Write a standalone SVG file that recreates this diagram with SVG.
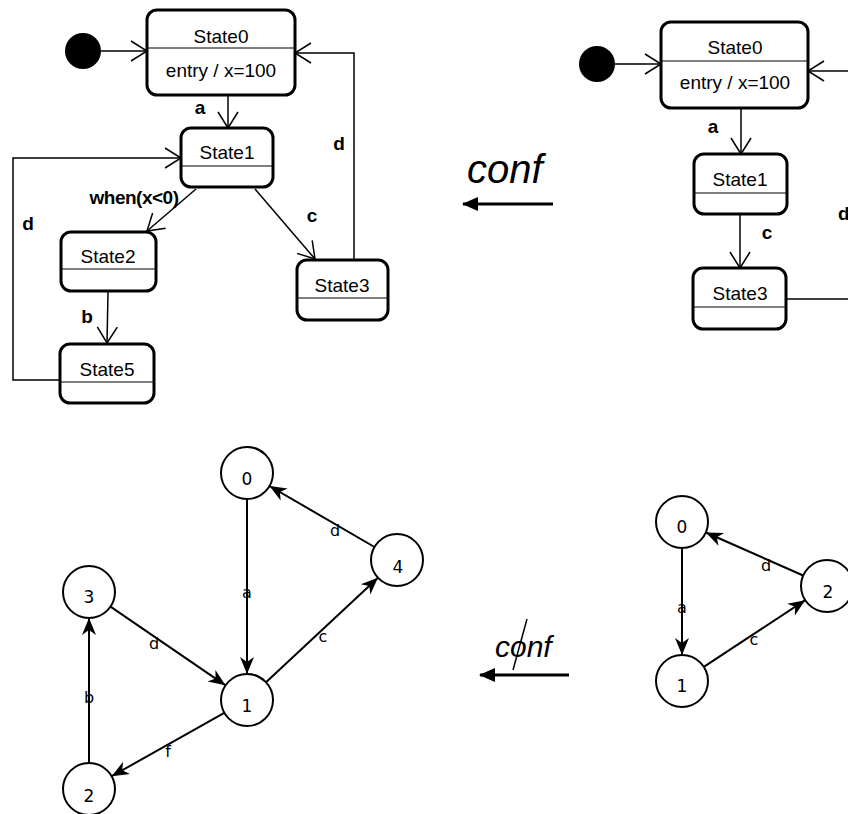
<svg xmlns="http://www.w3.org/2000/svg" width="848" height="814" viewBox="0 0 848 814">
<style>
.box{fill:#fff;stroke:#000;stroke-width:3}
.div{stroke:#000;stroke-width:1}
.st{font-family:"Liberation Sans",Arial,sans-serif;font-size:19px;text-anchor:middle;fill:#000}
.lb{font-family:"Liberation Sans",Arial,sans-serif;font-size:19px;font-weight:bold;fill:#000}
.tr{fill:none;stroke:#000;stroke-width:1.5}
.node{fill:#fff;stroke:#000;stroke-width:2}
.nl{font-family:"DejaVu Sans",Verdana,sans-serif;font-size:17px;text-anchor:middle;fill:#000}
.el{font-family:"DejaVu Sans",Verdana,sans-serif;font-size:16px;text-anchor:middle;fill:#000}
.ge{fill:none;stroke:#000;stroke-width:2}
.conf{font-family:"Liberation Sans",Arial,sans-serif;font-style:italic;fill:#000}
.big{stroke:#000;stroke-width:3}
</style>
<defs>
<marker id="open" markerUnits="userSpaceOnUse" markerWidth="22" markerHeight="26" viewBox="-19 -13 22 26" refX="0" refY="0" orient="auto">
<path d="M-16,-10 L0,0 L-16,10" fill="none" stroke="#000" stroke-width="1.5"/>
</marker>
<marker id="dart" markerUnits="userSpaceOnUse" markerWidth="22" markerHeight="20" viewBox="-19 -10 22 20" refX="0" refY="0" orient="auto">
<path d="M0,0 L-17,-7 L-12,0 L-17,7 Z" fill="#000"/>
</marker>
<marker id="tri" markerUnits="userSpaceOnUse" markerWidth="20" markerHeight="20" viewBox="-17 -10 20 20" refX="0" refY="0" orient="auto">
<path d="M1,0 L-15,-7 L-15,7 Z" fill="#000"/>
</marker>
</defs>

<!-- Top-left state machine -->
<g id="tl-connectors">
<line class="tr" x1="101" y1="51" x2="147" y2="51" marker-end="url(#open)"/>
<line class="tr" x1="228" y1="95" x2="228" y2="128" marker-end="url(#open)"/>
<line class="tr" x1="196" y1="189" x2="147" y2="231" marker-end="url(#open)"/>
<line class="tr" x1="255" y1="189" x2="315" y2="259" marker-end="url(#open)"/>
<polyline class="tr" points="354,259 354,53 295,53" marker-end="url(#open)"/>
<line class="tr" x1="108" y1="292" x2="107" y2="343" marker-end="url(#open)"/>
<polyline class="tr" points="60,380 13,380 13,158 181,158" marker-end="url(#open)"/>
<text class="lb" x="200" y="114" text-anchor="middle">a</text>
<text class="lb" x="134" y="204" text-anchor="middle" letter-spacing="-0.5">when(x&lt;0)</text>
<text class="lb" x="312" y="222" text-anchor="middle">c</text>
<text class="lb" x="339" y="150" text-anchor="middle">d</text>
<text class="lb" x="87" y="323" text-anchor="middle">b</text>
<text class="lb" x="28" y="230" text-anchor="middle">d</text>
</g>
<g id="tl-init"><circle cx="83" cy="51" r="18" fill="#000"/></g>
<g id="tl-state0">
<rect class="box" x="147" y="10" width="148" height="85" rx="10"/>
<line class="div" x1="147" y1="48" x2="295" y2="48"/>
<text class="st" x="221" y="43">State0</text>
<text class="st" x="221" y="77">entry / x=100</text>
</g>
<g id="tl-state1">
<rect class="box" x="181" y="128" width="92" height="59" rx="10"/>
<line class="div" x1="181" y1="166" x2="273" y2="166"/>
<text class="st" x="227" y="159">State1</text>
</g>
<g id="tl-state2">
<rect class="box" x="61" y="232" width="95" height="59" rx="10"/>
<line class="div" x1="61" y1="269" x2="156" y2="269"/>
<text class="st" x="108" y="263">State2</text>
</g>
<g id="tl-state3">
<rect class="box" x="297" y="260" width="91" height="60" rx="10"/>
<line class="div" x1="297" y1="298" x2="388" y2="298"/>
<text class="st" x="342" y="292">State3</text>
</g>
<g id="tl-state5">
<rect class="box" x="60" y="344" width="94" height="59" rx="10"/>
<line class="div" x1="60" y1="382" x2="154" y2="382"/>
<text class="st" x="107" y="376">State5</text>
</g>

<!-- conf arrow top -->
<g id="conf-top">
<text class="conf" x="467" y="183" font-size="40">conf</text>
<line class="big" x1="553" y1="204" x2="463" y2="204" marker-end="url(#tri)"/>
</g>

<!-- Top-right state machine -->
<g id="tr-connectors">
<line class="tr" x1="615" y1="64" x2="661" y2="64" marker-end="url(#open)"/>
<line class="tr" x1="741" y1="108" x2="741" y2="154" marker-end="url(#open)"/>
<line class="tr" x1="740" y1="214" x2="740" y2="268" marker-end="url(#open)"/>
<line class="tr" x1="786" y1="299" x2="850" y2="299"/>
<line class="tr" x1="850" y1="71" x2="808" y2="71" marker-end="url(#open)"/>
<text class="lb" x="713" y="133" text-anchor="middle">a</text>
<text class="lb" x="767" y="239" text-anchor="middle">c</text>
<text class="lb" x="838" y="220">d</text>
</g>
<g id="tr-init"><circle cx="597" cy="64" r="18" fill="#000"/></g>
<g id="tr-state0">
<rect class="box" x="661" y="22" width="147" height="86" rx="10"/>
<line class="div" x1="661" y1="61" x2="808" y2="61"/>
<text class="st" x="735" y="54">State0</text>
<text class="st" x="735" y="89">entry / x=100</text>
</g>
<g id="tr-state1">
<rect class="box" x="694" y="154" width="93" height="60" rx="10"/>
<line class="div" x1="694" y1="193" x2="787" y2="193"/>
<text class="st" x="740" y="186">State1</text>
</g>
<g id="tr-state3">
<rect class="box" x="693" y="268" width="93" height="61" rx="10"/>
<line class="div" x1="693" y1="307" x2="786" y2="307"/>
<text class="st" x="740" y="300">State3</text>
</g>

<!-- Bottom-left graph -->
<g id="bl-connectors">
<line class="ge" x1="247" y1="499" x2="247" y2="674" marker-end="url(#dart)"/>
<line class="ge" x1="374.5" y1="547" x2="269.5" y2="486" marker-end="url(#dart)"/>
<line class="ge" x1="110.5" y1="606.7" x2="225.5" y2="685.3" marker-end="url(#dart)"/>
<line class="ge" x1="266" y1="682.3" x2="378" y2="577.7" marker-end="url(#dart)"/>
<line class="ge" x1="224.3" y1="712.8" x2="111.7" y2="776.2" marker-end="url(#dart)"/>
<line class="ge" x1="89" y1="763" x2="89" y2="618" marker-end="url(#dart)"/>
<text class="el" x="247" y="598">a</text>
<text class="el" x="335" y="536">d</text>
<text class="el" x="154" y="649">d</text>
<text class="el" x="323" y="642">c</text>
<text class="el" x="89" y="703">b</text>
<text class="el" x="168" y="757">f</text>
</g>
<g id="bl-n0"><circle class="node" cx="247" cy="473" r="26"/><text class="nl" x="247" y="485">0</text></g>
<g id="bl-n4"><circle class="node" cx="397" cy="560" r="26"/><text class="nl" x="398" y="573">4</text></g>
<g id="bl-n3"><circle class="node" cx="89" cy="592" r="26"/><text class="nl" x="89" y="603">3</text></g>
<g id="bl-n1"><circle class="node" cx="247" cy="700" r="26"/><text class="nl" x="247" y="712">1</text></g>
<g id="bl-n2"><circle class="node" cx="89" cy="789" r="26"/><text class="nl" x="89" y="802">2</text></g>

<!-- conf (negated) arrow bottom -->
<g id="conf-bottom">
<text class="conf" x="495" y="657" font-size="30">conf</text>
<line x1="527" y1="619" x2="513" y2="670" stroke="#000" stroke-width="1.5"/>
<line class="big" x1="569" y1="675" x2="480" y2="675" marker-end="url(#tri)"/>
</g>

<!-- Bottom-right graph -->
<g id="br-connectors">
<line class="ge" x1="682" y1="548" x2="682" y2="655" marker-end="url(#dart)"/>
<line class="ge" x1="803.2" y1="575.5" x2="705.8" y2="532.5" marker-end="url(#dart)"/>
<line class="ge" x1="703.8" y1="666.8" x2="805.2" y2="600.2" marker-end="url(#dart)"/>
<text class="el" x="682" y="613">a</text>
<text class="el" x="766" y="571">d</text>
<text class="el" x="754" y="645">c</text>
</g>
<g id="br-n0"><circle class="node" cx="682" cy="522" r="26"/><text class="nl" x="682" y="533">0</text></g>
<g id="br-n1"><circle class="node" cx="682" cy="681" r="26"/><text class="nl" x="682" y="692">1</text></g>
<g id="br-n2"><circle class="node" cx="827" cy="586" r="26"/><text class="nl" x="828" y="598">2</text></g>
</svg>
